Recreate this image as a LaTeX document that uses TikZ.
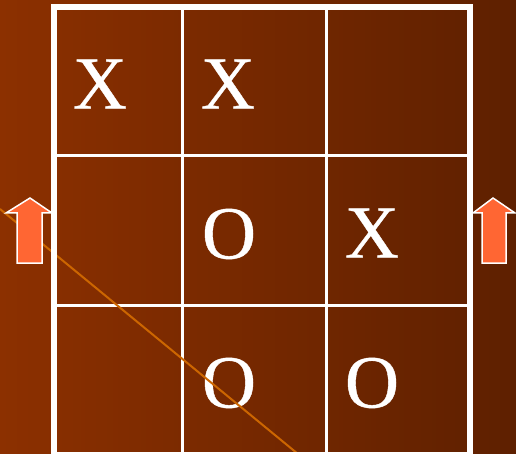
\documentclass[tikz,border=0pt]{standalone}
\usepackage{fontspec}
\setmainfont{Liberation Serif}
\newfontfamily\markfont[FakeBold=0.5]{Liberation Serif}
\usepackage{xcolor}
\definecolor{bgleft}{HTML}{8C3000}
\definecolor{bgright}{HTML}{5E2000}
\definecolor{arrowfill}{HTML}{FF6633}
\definecolor{strike}{HTML}{CC6600}
\tikzset{
  cellmark/.style={text=white, font=\markfont\fontsize{75}{75}\selectfont, inner sep=0pt},
  gridline/.style={white, line width=3pt},
  borderline/.style={white, line width=6pt},
  uparrow/.style={fill=arrowfill, draw=white, line width=1.5pt, line join=miter}
}

\begin{document}
\begin{tikzpicture}
    [x=1pt,y=-1pt]
    %background
    \shade[left color=bgleft, right color=bgright] (0,0) rectangle (516,454);
    \useasboundingbox (0,0) rectangle (516,454);
    %inner grid
    \draw[gridline] (182,7)--(182,454);
    \draw[gridline] (326,7)--(326,454);
    \draw[gridline] (54,156)--(470,156);
    \draw[gridline] (54,305)--(470,305);
    %marks
    \node[cellmark] (m11) at (100,84) {X};
    \node[cellmark] (m12) at (228,84) {X};
    \node[cellmark] (m22) at (229,234) {O};
    \node[cellmark] (m23) at (372,233) {X};
    \node[cellmark] (m32) at (229,383) {O};
    \node[cellmark] (m33) at (372,383) {O};
    %strike line
    \draw[strike, line width=2pt] (0,209)--(298,454);
    %outer border
    \draw[borderline] (54,454)--(54,7)--(470,7)--(470,454);
    \draw[borderline] (54,455)--(470,455);
    %arrows
    \draw[uparrow] (30,198)--(52,213)--(42,213)--(42,263)--(17,263)--(17,213)--(6,213)--cycle;
    \draw[uparrow] (493,198)--(515,213)--(506,213)--(506,263)--(482,263)--(482,213)--(473,213)--cycle;
\end{tikzpicture}
\end{document}
